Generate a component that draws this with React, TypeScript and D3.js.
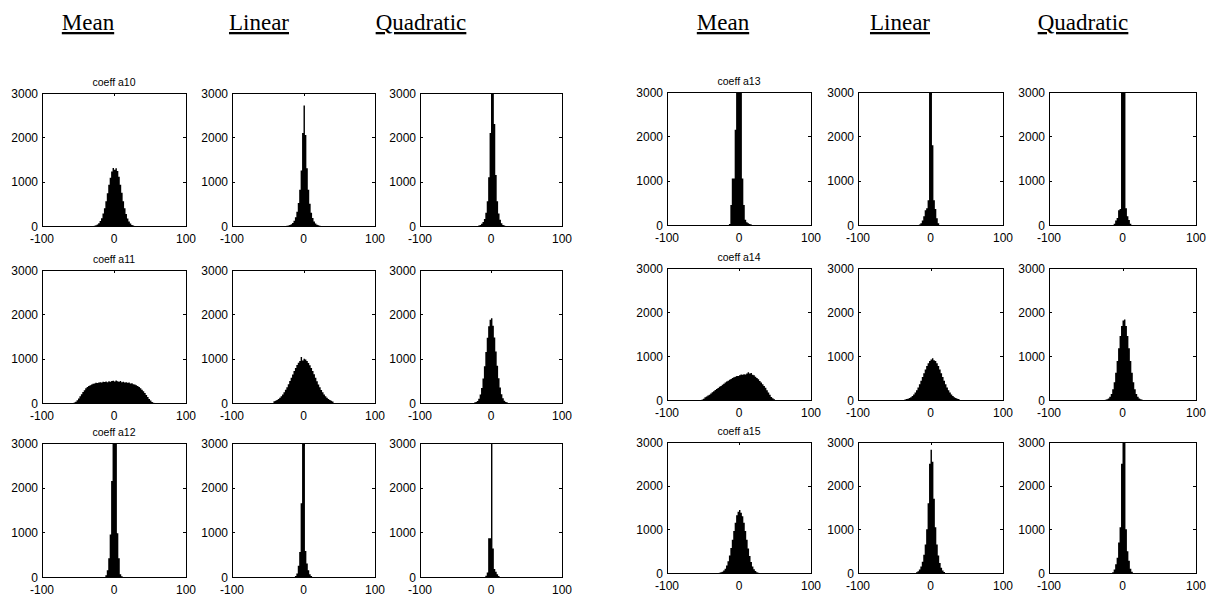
import React from "react";
import * as d3 from "d3";

// ---------- DATA ----------
const columnHeaders = ["Mean", "Linear", "Quadratic"];
const panelTitles = ["coeff a10", "coeff a11", "coeff a12", "coeff a13", "coeff a14", "coeff a15"];
const xTicks = [-100, 0, 100];
const yTicks = [0, 1000, 2000, 3000];
const xDomain = [-100, 100];
const yDomain = [0, 3000];
const binWidth = 2;

// each histogram: left edge of first bin + bin counts (bin width = binWidth)
const a10Mean = { start: -28, counts: [8, 18, 35, 60, 110, 175, 280, 400, 560, 740, 930, 1090, 1230, 1310, 1270, 1300, 1240, 1110, 930, 750, 560, 400, 270, 170, 100, 55, 25, 10] };
const a10Linear = { start: -24, counts: [5, 10, 20, 40, 70, 120, 200, 320, 520, 820, 1250, 2100, 2720, 2050, 1300, 820, 500, 300, 180, 100, 55, 30, 15, 8] };
const a10Quadratic = { start: -18, counts: [10, 25, 50, 90, 160, 300, 560, 1100, 2100, 3400, 3600, 2300, 1150, 560, 280, 140, 60, 25, 10] };

const a11Mean = { start: -56, counts: [10, 30, 60, 100, 150, 200, 250, 290, 330, 360, 385, 400, 420, 435, 440, 455, 450, 465, 470, 460, 480, 475, 485, 470, 490, 480, 495, 500, 485, 505, 490, 480, 495, 470, 480, 465, 470, 455, 460, 440, 445, 425, 420, 400, 385, 360, 330, 300, 265, 225, 180, 135, 90, 55, 25, 8] };
const a11Linear = { start: -42, counts: [38, 50, 70, 90, 120, 155, 190, 240, 300, 355, 425, 495, 570, 645, 720, 790, 855, 910, 950, 1040, 960, 1000, 980, 950, 900, 850, 790, 720, 650, 570, 490, 420, 355, 295, 240, 190, 150, 120, 90, 70, 50, 35] };
const a11Quadratic = { start: -24, counts: [9, 20, 45, 95, 190, 340, 550, 830, 1150, 1470, 1730, 1880, 1910, 1740, 1480, 1160, 840, 560, 350, 200, 105, 50, 22, 10] };

const a12Mean = { start: -12, counts: [40, 150, 420, 950, 2150, 3600, 3600, 3600, 980, 420, 60, 15] };
const a12Linear = { start: -12, counts: [20, 80, 250, 560, 1650, 3600, 3600, 580, 300, 150, 60, 20] };
const a12Quadratic = { start: -8, counts: [30, 100, 870, 870, 3600, 640, 180, 120, 60, 20] };

const a13Mean = { start: -14, counts: [20, 450, 1050, 1050, 2150, 3600, 3600, 3600, 3600, 1050, 450, 120, 60, 40, 20, 10] };
const a13Linear = { start: -16, counts: [10, 40, 100, 200, 330, 380, 560, 3600, 3600, 1800, 560, 360, 150, 40] };
const a13Quadratic = { start: -12, counts: [30, 100, 160, 330, 360, 3600, 3600, 3600, 380, 200, 110, 30] };

const a14Mean = { start: -52, counts: [10, 30, 60, 80, 100, 120, 150, 175, 200, 225, 250, 275, 300, 320, 345, 370, 395, 420, 440, 460, 480, 500, 515, 530, 545, 548, 560, 582, 575, 585, 578, 600, 630, 605, 615, 575, 560, 530, 500, 470, 430, 400, 360, 320, 280, 220, 170, 120, 70, 40, 15] };
const a14Linear = { start: -36, counts: [13, 20, 30, 45, 65, 91, 126, 170, 222, 285, 357, 436, 520, 607, 692, 770, 836, 887, 919, 950, 905, 887, 836, 770, 692, 607, 520, 436, 357, 285, 222, 170, 126, 91, 65, 45, 30, 20] };
const a14Quadratic = { start: -24, counts: [7, 16, 36, 73, 139, 246, 405, 621, 886, 1177, 1457, 1680, 1804, 1830, 1680, 1457, 1177, 886, 621, 405, 246, 139, 73, 36, 16, 7] };

const a15Mean = { start: -28, counts: [8, 15, 30, 55, 100, 170, 270, 400, 570, 760, 960, 1150, 1320, 1400, 1440, 1380, 1300, 1150, 960, 760, 560, 390, 250, 150, 85, 45, 20, 8] };
const a15Linear = { start: -20, counts: [15, 40, 80, 150, 260, 420, 650, 1000, 1600, 2500, 2820, 2550, 1700, 1050, 650, 400, 230, 120, 60, 25] };
const a15Quadratic = { start: -14, counts: [20, 80, 200, 350, 700, 1050, 2500, 3600, 3600, 1000, 500, 280, 100, 30] };

const leftGroup = [
  [a10Mean, a10Linear, a10Quadratic],
  [a11Mean, a11Linear, a11Quadratic],
  [a12Mean, a12Linear, a12Quadratic],
];
const rightGroup = [
  [a13Mean, a13Linear, a13Quadratic],
  [a14Mean, a14Linear, a14Quadratic],
  [a15Mean, a15Linear, a15Quadratic],
];

// ---------- LAYOUT ----------
const W = 1215;
const H = 597;
const groups = [
  {
    data: leftGroup,
    titles: panelTitles.slice(0, 3),
    cols: [[42, 186], [232, 375], [420, 562]],
    rows: [[93, 226], [270, 403], [443, 577]],
    headerX: [88, 259, 421],
  },
  {
    data: rightGroup,
    titles: panelTitles.slice(3, 6),
    cols: [[667, 811], [858, 1003], [1049, 1196]],
    rows: [[92, 225], [268, 400], [442, 573]],
    headerX: [723, 900, 1083],
  },
];

const tickFont = "'Liberation Sans', Arial, sans-serif";

function Panel({ hist, x0, x1, y0, y1, title }) {
  const x = d3.scaleLinear().domain(xDomain).range([x0, x1]);
  const y = d3.scaleLinear().domain(yDomain).range([y1, y0]).clamp(true);
  const pts = hist.counts.map((c, i) => [hist.start + i * binWidth, c]);
  pts.push([hist.start + hist.counts.length * binWidth, hist.counts[hist.counts.length - 1]]);
  const area = d3
    .area()
    .curve(d3.curveStepAfter)
    .x((d) => x(d[0]))
    .y0(y(0))
    .y1((d) => y(d[1]));
  const tl = 3;
  const h = 0.5;
  return (
    <g>
      {title && (
        <text x={(x0 + x1) / 2} y={y0 - 7} textAnchor="middle" fontFamily={tickFont} fontSize={10.5} fill="#000">
          {title}
        </text>
      )}
      <path d={area(pts)} fill="#000" stroke="none" />
      <rect x={x0 + h} y={y0 + h} width={x1 - x0} height={y1 - y0} fill="none" stroke="#000" strokeWidth={1} shapeRendering="crispEdges" />
      {yTicks.map((t) => (
        <g key={"y" + t}>
          <line x1={x0} x2={x0 + tl} y1={Math.round(y(t)) + h} y2={Math.round(y(t)) + h} stroke="#000" shapeRendering="crispEdges" />
          <line x1={x1} x2={x1 - tl} y1={Math.round(y(t)) + h} y2={Math.round(y(t)) + h} stroke="#000" shapeRendering="crispEdges" />
          <text x={x0 - 4} y={y(t) + 1.5} textAnchor="end" dominantBaseline="middle" fontFamily={tickFont} fontSize={12} fill="#000">
            {t}
          </text>
        </g>
      ))}
      {xTicks.map((t) => (
        <g key={"x" + t}>
          <line x1={Math.round(x(t)) + h} x2={Math.round(x(t)) + h} y1={y1} y2={y1 - tl} stroke="#000" shapeRendering="crispEdges" />
          <line x1={Math.round(x(t)) + h} x2={Math.round(x(t)) + h} y1={y0} y2={y0 + tl} stroke="#000" shapeRendering="crispEdges" />
          <text x={x(t)} y={y1 + 17} textAnchor="middle" fontFamily={tickFont} fontSize={12} fill="#000">
            {t}
          </text>
        </g>
      ))}
    </g>
  );
}

export default function App() {
  return (
    <svg
      width={W}
      height={H}
      viewBox={`0 0 ${W} ${H}`}
      style={{ position: "absolute", left: 0, top: 0, background: "#fff" }}
    >
      <rect x={0} y={0} width={W} height={H} fill="#fff" />
      {groups.map((g, gi) => (
        <g key={gi}>
          {columnHeaders.map((hd, ci) => (
            <text
              key={hd}
              x={g.headerX[ci]}
              y={30}
              textAnchor="middle"
              fontFamily="'Liberation Serif', 'Times New Roman', serif"
              fontSize={23}
              fontWeight="normal"
              fill="#000"
              style={{ textDecoration: "underline" }}
            >
              {hd}
            </text>
          ))}
          {g.data.map((row, ri) =>
            row.map((hist, ci) => (
              <Panel
                key={ri + "-" + ci}
                hist={hist}
                x0={g.cols[ci][0]}
                x1={g.cols[ci][1]}
                y0={g.rows[ri][0]}
                y1={g.rows[ri][1]}
                title={ci === 0 ? g.titles[ri] : null}
              />
            ))
          )}
        </g>
      ))}
    </svg>
  );
}
